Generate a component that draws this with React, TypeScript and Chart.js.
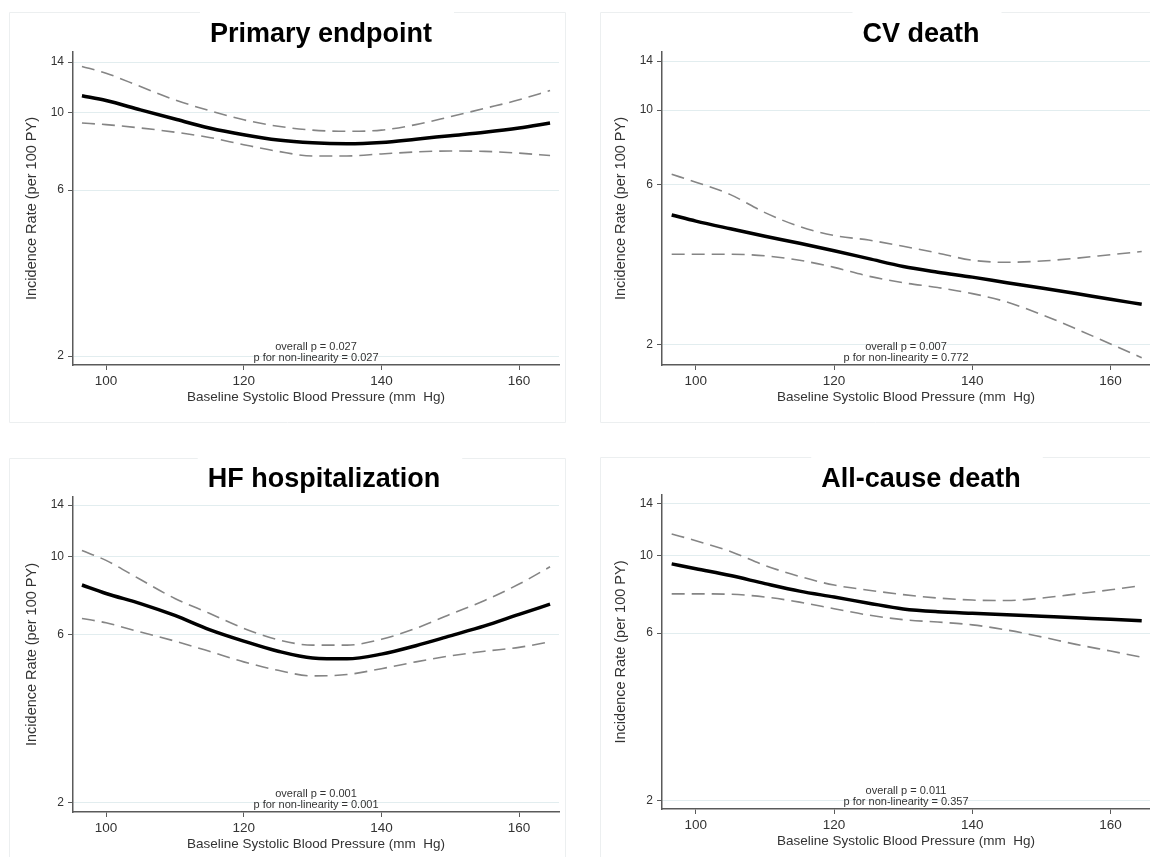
import React, { useEffect, useRef } from "react";
import { Chart, registerables } from "chart.js";

Chart.register(...registerables);

// ---------- DATA ----------
const SBP = [96.5, 100, 105, 110, 115, 120, 125, 130, 135, 140, 145, 150, 155, 160, 164.5];

const TITLES = ["Primary endpoint", "CV death", "HF hospitalization", "All-cause death"];
const P_OVERALL = ["0.027", "0.007", "0.001", "0.011"];
const P_NONLIN = ["0.027", "0.772", "0.001", "0.357"];

const PRIMARY_IR = [11.2, 10.85, 10.2, 9.6, 9.05, 8.65, 8.35, 8.2, 8.15, 8.22, 8.4, 8.6, 8.8, 9.05, 9.35];
const PRIMARY_UPPER = [13.6, 13.0, 11.9, 10.9, 10.15, 9.55, 9.15, 8.92, 8.85, 8.92, 9.25, 9.75, 10.3, 10.9, 11.6];
const PRIMARY_LOWER = [9.35, 9.25, 9.05, 8.8, 8.5, 8.1, 7.75, 7.52, 7.52, 7.62, 7.72, 7.77, 7.75, 7.66, 7.54];

const CVD_IR = [4.87, 4.67, 4.43, 4.21, 4.01, 3.81, 3.61, 3.42, 3.29, 3.18, 3.06, 2.95, 2.84, 2.73, 2.64];
const CVD_UPPER = [6.44, 6.1, 5.6, 4.95, 4.5, 4.23, 4.1, 3.93, 3.75, 3.57, 3.52, 3.55, 3.62, 3.71, 3.79];
const CVD_LOWER = [3.72, 3.72, 3.72, 3.68, 3.57, 3.4, 3.2, 3.06, 2.96, 2.84, 2.68, 2.46, 2.23, 2.01, 1.83];

const HF_IR = [8.3, 7.85, 7.35, 6.8, 6.2, 5.75, 5.38, 5.15, 5.12, 5.28, 5.58, 5.95, 6.35, 6.85, 7.32];
const HF_UPPER = [10.4, 9.75, 8.6, 7.6, 6.9, 6.25, 5.8, 5.6, 5.6, 5.82, 6.25, 6.85, 7.5, 8.35, 9.35];
const HF_LOWER = [6.67, 6.48, 6.1, 5.75, 5.38, 5.02, 4.75, 4.58, 4.62, 4.8, 5.02, 5.22, 5.38, 5.52, 5.72];

const ACD_IR = [9.45, 9.15, 8.75, 8.3, 7.9, 7.6, 7.3, 7.03, 6.9, 6.83, 6.77, 6.7, 6.63, 6.57, 6.5];
const ACD_UPPER = [11.5, 11.0, 10.25, 9.35, 8.7, 8.22, 7.95, 7.72, 7.55, 7.45, 7.43, 7.55, 7.75, 7.97, 8.2];
const ACD_LOWER = [7.76, 7.76, 7.74, 7.6, 7.35, 7.04, 6.75, 6.55, 6.45, 6.33, 6.12, 5.85, 5.57, 5.33, 5.12];

const Y_TICKS = [2, 6, 10, 14];
const X_TICKS = [100, 120, 140, 160];
const X_TITLE = "Baseline Systolic Blood Pressure (mm  Hg)";
const Y_TITLE = "Incidence Rate (per 100 PY)";

const SERIES = [
  [PRIMARY_IR, PRIMARY_UPPER, PRIMARY_LOWER],
  [CVD_IR, CVD_UPPER, CVD_LOWER],
  [HF_IR, HF_UPPER, HF_LOWER],
  [ACD_IR, ACD_UPPER, ACD_LOWER],
];

// ---------- LAYOUT ----------
const LAYOUT = [
  { left: 0, top: 0, w: 575, h: 430, area: { l: 73, t: 52, r: 559, b: 365 }, box: { x: 9.5, y: 12.5, w: 556, h: 410 }, titleX: 321, titleY: 42, yMin: 1.885, yMax: 14.96, xMin: 95.2, xMax: 165.8 },
  { left: 575, top: 0, w: 575, h: 430, area: { l: 87, t: 52, r: 575, b: 365 }, box: { x: 25.5, y: 12.5, w: 600, h: 410 }, titleX: 346, titleY: 42, yMin: 1.74, yMax: 14.9, xMin: 95.1, xMax: 165.7 },
  { left: 0, top: 430, w: 575, h: 427, area: { l: 73, t: 67, r: 559, b: 382 }, box: { x: 9.5, y: 28.5, w: 556, h: 450 }, titleX: 324, titleY: 57, yMin: 1.88, yMax: 14.76, xMin: 95.2, xMax: 165.8 },
  { left: 575, top: 430, w: 575, h: 427, area: { l: 87, t: 65, r: 575, b: 379 }, box: { x: 25.5, y: 27.5, w: 600, h: 450 }, titleX: 346, titleY: 57, yMin: 1.89, yMax: 14.85, xMin: 95.1, xMax: 165.7 },
];

const FONT = "'Liberation Sans', Arial, Helvetica, sans-serif";
const AXIS_COLOR = "#5a5a5a";
const GRID_COLOR = "#e2edef";
const TEXT_COLOR = "#333333";
const CI_COLOR = "#858585";

function makeConfig(i: number) {
  const L = LAYOUT[i];
  const [est, up, lo] = SERIES[i];
  const pts = (arr: number[]) => SBP.map((x, k) => ({ x, y: arr[k] }));

  const decor = {
    id: "decor" + i,
    beforeDraw(chart: any) {
      const ctx = chart.ctx;
      ctx.save();
      ctx.font = `bold 27px ${FONT}`;
      const tw = ctx.measureText(TITLES[i]).width;
      const gapL = L.titleX - tw / 2 - 10;
      const gapR = L.titleX + tw / 2 + 22;
      ctx.strokeStyle = "#eceff0";
      ctx.lineWidth = 1;
      const b = L.box;
      ctx.beginPath();
      ctx.moveTo(b.x, b.y);
      ctx.lineTo(gapL, b.y);
      ctx.moveTo(gapR, b.y);
      ctx.lineTo(b.x + b.w, b.y);
      ctx.moveTo(b.x, b.y);
      ctx.lineTo(b.x, b.y + b.h);
      ctx.lineTo(b.x + b.w, b.y + b.h);
      ctx.lineTo(b.x + b.w, b.y);
      ctx.stroke();
      ctx.restore();
    },
    afterDraw(chart: any) {
      const ctx = chart.ctx;
      const a = chart.chartArea;
      const cx = (a.left + a.right) / 2;
      ctx.save();
      // title
      ctx.fillStyle = "#000";
      ctx.font = `bold 27px ${FONT}`;
      ctx.textAlign = "center";
      ctx.textBaseline = "alphabetic";
      ctx.fillText(TITLES[i], L.titleX, L.titleY);
      // p-values
      ctx.fillStyle = TEXT_COLOR;
      ctx.font = `11px ${FONT}`;
      ctx.fillText(`overall p = ${P_OVERALL[i]}`, cx, a.bottom - 15);
      ctx.fillText(`p for non-linearity = ${P_NONLIN[i]}`, cx, a.bottom - 4);
      // x title
      ctx.font = `13.5px ${FONT}`;
      ctx.textBaseline = "middle";
      ctx.fillText(X_TITLE, cx, a.bottom + 32);
      // y title
      ctx.font = `14.5px ${FONT}`;
      ctx.translate(a.left - 41, (a.top + a.bottom) / 2);
      ctx.rotate(-Math.PI / 2);
      ctx.fillText(Y_TITLE, 0, 0);
      ctx.restore();
    },
  };

  return {
    type: "line" as const,
    data: {
      datasets: [
        { data: pts(up), borderColor: CI_COLOR, borderWidth: 1.6, borderDash: [13, 7], pointRadius: 0, cubicInterpolationMode: "monotone", fill: false },
        { data: pts(lo), borderColor: CI_COLOR, borderWidth: 1.6, borderDash: [13, 7], pointRadius: 0, cubicInterpolationMode: "monotone", fill: false },
        { data: pts(est), borderColor: "#000", borderWidth: 3.5, pointRadius: 0, cubicInterpolationMode: "monotone", fill: false },
      ],
    },
    options: {
      animation: false,
      responsive: false,
      devicePixelRatio: 1,
      layout: { padding: { left: 0, top: L.area.t, right: L.w - L.area.r, bottom: 0 } },
      plugins: { legend: { display: false }, title: { display: false }, tooltip: { enabled: false } },
      scales: {
        x: {
          type: "linear",
          min: L.xMin,
          max: L.xMax,
          afterBuildTicks: (s: any) => { s.ticks = X_TICKS.map((v) => ({ value: v })); },
          afterFit: (s: any) => { s.height = L.h - L.area.b; },
          grid: { drawOnChartArea: false, drawTicks: true, tickLength: 5, tickColor: AXIS_COLOR, lineWidth: 1 },
          border: { display: true, color: AXIS_COLOR, width: 1.5 },
          ticks: { color: TEXT_COLOR, font: { family: FONT, size: 13.5 }, padding: 3, maxRotation: 0, autoSkip: false, callback: (v: any) => String(v) },
        },
        y: {
          type: "logarithmic",
          min: L.yMin,
          max: L.yMax,
          afterBuildTicks: (s: any) => { s.ticks = Y_TICKS.map((v) => ({ value: v })); },
          afterFit: (s: any) => { s.width = L.area.l; },
          grid: { color: GRID_COLOR, drawTicks: true, tickLength: 5, tickColor: AXIS_COLOR, lineWidth: 1 },
          border: { display: true, color: AXIS_COLOR, width: 1.5 },
          ticks: { color: TEXT_COLOR, font: { family: FONT, size: 12 }, padding: 4, autoSkip: false, callback: (v: any) => String(v) },
        },
      },
    },
    plugins: [decor],
  };
}

function Panel({ index }: { index: number }) {
  const ref = useRef<HTMLCanvasElement | null>(null);
  const L = LAYOUT[index];
  useEffect(() => {
    if (!ref.current) return;
    const chart = new Chart(ref.current, makeConfig(index) as any);
    return () => chart.destroy();
  }, [index]);
  return (
    <canvas
      ref={ref}
      width={L.w}
      height={L.h}
      style={{ position: "absolute", left: L.left, top: L.top, width: L.w, height: L.h }}
    />
  );
}

export default function App() {
  return (
    <div style={{ position: "absolute", left: 0, top: 0, width: 1150, height: 857, background: "#fff", overflow: "hidden" }}>
      {LAYOUT.map((_, i) => (
        <Panel key={i} index={i} />
      ))}
    </div>
  );
}
